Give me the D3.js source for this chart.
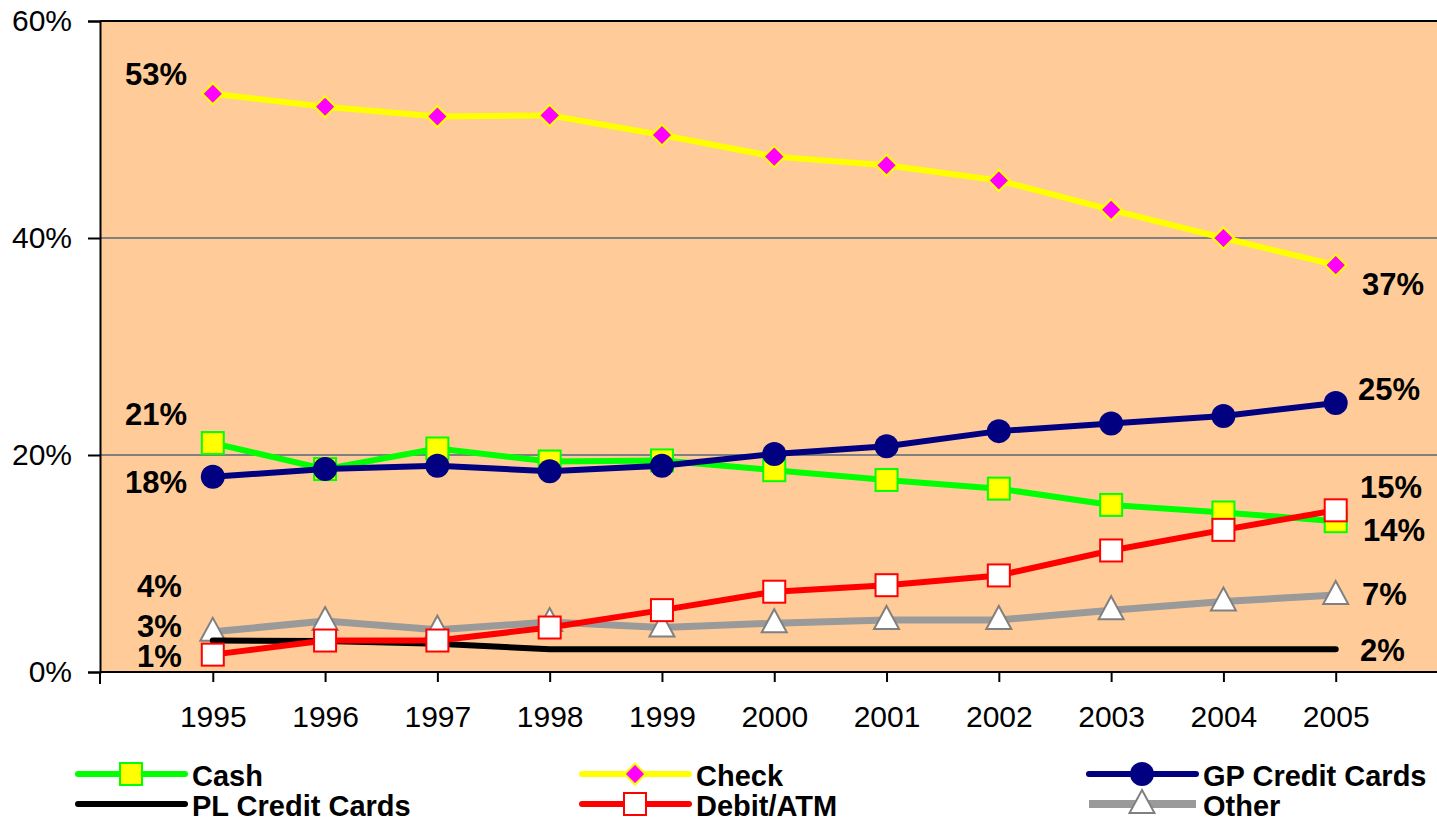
<!DOCTYPE html>
<html>
<head>
<meta charset="utf-8">
<script src="https://cdn.jsdelivr.net/npm/d3@7"></script>
<style>
  body { margin: 0; background: #fff; }
  svg text { font-family: Arial, "Liberation Sans", sans-serif; }
</style>
</head>
<body>
<div id="chart"></div>
<script>
// data
const years = [1995, 1996, 1997, 1998, 1999, 2000, 2001, 2002, 2003, 2004, 2005];
const cash  = [21.1, 18.7, 20.6, 19.4, 19.5, 18.6, 17.7, 16.9, 15.4, 14.7, 13.9];
const check = [53.3, 52.1, 51.2, 51.3, 49.5, 47.5, 46.7, 45.3, 42.6, 40.0, 37.5];
const gpCredit = [18.0, 18.7, 19.0, 18.5, 19.0, 20.1, 20.8, 22.2, 22.9, 23.6, 24.8];
const plCredit = [2.9, 2.85, 2.6, 2.1, 2.1, 2.1, 2.1, 2.1, 2.1, 2.1, 2.1];
const debit = [1.6, 2.9, 2.9, 4.1, 5.7, 7.4, 8.0, 8.9, 11.2, 13.1, 14.9];
const other = [3.7, 4.7, 3.9, 4.6, 4.1, 4.5, 4.8, 4.8, 5.7, 6.5, 7.1];
const yTicks = [0, 20, 40, 60];

const series = [
  {name: "Cash", values: cash, color: "#00ff00", width: 6, marker: "square", fill: "#ffff00", stroke: "#00ff00"},
  {name: "Check", values: check, color: "#ffff00", width: 6, marker: "diamond", fill: "#ff00ff", stroke: "#ffff00"},
  {name: "GP Credit Cards", values: gpCredit, color: "#000080", width: 6, marker: "circle", fill: "#000080", stroke: "#000080"},
  {name: "PL Credit Cards", values: plCredit, color: "#000000", width: 6, marker: null},
  {name: "Debit/ATM", values: debit, color: "#ff0000", width: 6, marker: "square", fill: "#ffffff", stroke: "#ff0000"},
  {name: "Other", values: other, color: "#9a9a9a", width: 7, marker: "triangle", fill: "#ffffff", stroke: "#808080"}
];

// end-point labels: [text, x, baseline y]
const leftLabels = [["53%", 125, 85], ["21%", 125, 425], ["18%", 125, 493], ["4%", 137, 597], ["3%", 137, 637], ["1%", 137, 667]];
const rightLabels = [["37%", 1362, 295], ["25%", 1358, 400], ["15%", 1360, 498], ["14%", 1363, 541], ["7%", 1362, 605], ["2%", 1360, 661]];

const W = 1437, H = 821;
const svg = d3.select("#chart").append("svg").attr("width", W).attr("height", H);

const x = d3.scaleLinear().domain([1994, 2006]).range([100.5, 1448]);
const y = d3.scaleLinear().domain([0, 60]).range([672, 21]);

// plot background
svg.append("rect").attr("x", 100).attr("y", y(60)).attr("width", W - 100).attr("height", y(0) - y(60)).attr("fill", "#ffcc99");

// gridlines
svg.append("g").selectAll("line").data([20, 40]).enter().append("line")
  .attr("x1", 100).attr("x2", W).attr("y1", d => y(d)).attr("y2", d => y(d))
  .attr("stroke", "#808080").attr("stroke-width", 2);

// top border
svg.append("line").attr("x1", 100).attr("x2", W).attr("y1", y(60)).attr("y2", y(60)).attr("stroke", "#000").attr("stroke-width", 2);

// y axis
const yAxis = d3.axisLeft(y).tickValues(yTicks).tickFormat(d => d + "%").tickSize(12).tickPadding(16);
const gy = svg.append("g").attr("transform", "translate(100,0)").call(yAxis);
gy.select(".domain").attr("stroke-width", 2);
gy.selectAll(".tick line").attr("stroke-width", 2);
gy.selectAll("text").attr("font-size", 30).attr("fill", "#000");

// x axis
const xAxis = d3.axisBottom(x).tickValues(years).tickFormat(d3.format("d")).tickSize(10).tickPadding(24).tickSizeOuter(0);
const gx = svg.append("g").attr("transform", "translate(0," + y(0) + ")").call(xAxis);
gx.select(".domain").attr("stroke-width", 2).attr("d", "M100,0H" + W);
gx.selectAll(".tick line").attr("stroke-width", 2);
gx.selectAll("text").attr("font-size", 30).attr("fill", "#000");
// left axis bottom tick stub
svg.append("line").attr("x1", 100).attr("x2", 100).attr("y1", y(0)).attr("y2", y(0) + 12).attr("stroke", "#000").attr("stroke-width", 2);

const line = d3.line().x((d, i) => x(years[i])).y(d => y(d));

function drawMarker(g, type, cx, cy, s) {
  if (type === "square") {
    g.append("rect").attr("x", cx - 11).attr("y", cy - 11).attr("width", 22).attr("height", 22)
      .attr("fill", s.fill).attr("stroke", s.stroke).attr("stroke-width", 2);
  } else if (type === "diamond") {
    g.append("path").attr("d", `M${cx},${cy - 10.5}L${cx + 10.5},${cy}L${cx},${cy + 10.5}L${cx - 10.5},${cy}Z`)
      .attr("fill", s.fill).attr("stroke", s.stroke).attr("stroke-width", 2);
  } else if (type === "circle") {
    g.append("circle").attr("cx", cx).attr("cy", cy).attr("r", 12).attr("fill", s.fill);
  } else if (type === "triangle") {
    g.append("path").attr("d", `M${cx},${cy - 14}L${cx + 12.5},${cy + 9}L${cx - 12.5},${cy + 9}Z`)
      .attr("fill", s.fill).attr("stroke", s.stroke).attr("stroke-width", 2);
  }
}

// draw order: other, pl, cash, gp, debit, check
const order = ["Other", "PL Credit Cards", "Cash", "GP Credit Cards", "Debit/ATM", "Check"];
order.forEach(name => {
  const s = series.find(d => d.name === name);
  const g = svg.append("g");
  g.append("path").datum(s.values).attr("d", line).attr("fill", "none")
    .attr("stroke", s.color).attr("stroke-width", s.width).attr("stroke-linejoin", "round").attr("stroke-linecap", "round");
  if (s.marker) {
    s.values.forEach((v, i) => drawMarker(g, s.marker, x(years[i]), y(v), s));
  }
});

// value labels
svg.append("g").selectAll("text").data(leftLabels.concat(rightLabels)).enter().append("text")
  .attr("x", d => d[1]).attr("y", d => d[2]).text(d => d[0])
  .attr("font-size", 31).attr("font-weight", "bold").attr("fill", "#000");

// legend
const legendPos = [[78, 774], [582, 774], [1089, 774], [78, 804], [582, 804], [1089, 804]];
series.forEach((s, i) => {
  const [lx, ly] = legendPos[i];
  const g = svg.append("g");
  g.append("line").attr("x1", lx).attr("x2", lx + 107).attr("y1", ly).attr("y2", ly)
    .attr("stroke", s.color).attr("stroke-width", s.name === "Other" ? 8 : 6)
    .attr("stroke-linecap", s.name === "Other" ? "butt" : "round");
  if (s.marker) drawMarker(g, s.marker, lx + 53, ly, s);
  g.append("text").attr("x", lx + 114).attr("y", ly + 12).text(s.name)
    .attr("font-size", 29).attr("font-weight", "bold").attr("fill", "#000");
});
</script>
</body>
</html>
